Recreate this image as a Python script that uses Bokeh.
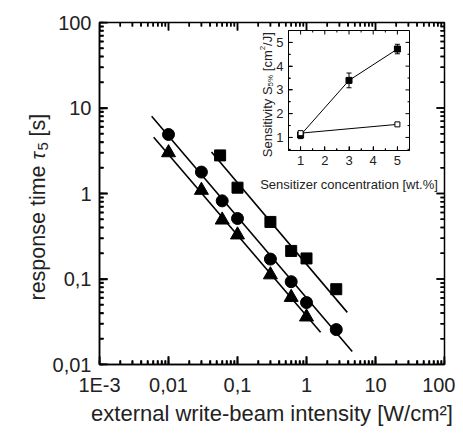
from math import pi
from bokeh.plotting import figure
from bokeh.models import (SingleIntervalTicker, CustomJSTickFormatter, Label, Whisker,
                          ColumnDataSource, Range1d, TeeHead)
from bokeh.embed import file_html
from bokeh.resources import INLINE

FONT = "Liberation Sans"
TXT = "#222222"

# ---------------- data (main plot) ----------------
x_circ = [0.01, 0.03, 0.06, 0.1, 0.3, 0.6, 1.0, 2.7]
y_circ = [4.9, 1.78, 0.82, 0.51, 0.171, 0.093, 0.053, 0.0256]
x_tri = [0.01, 0.03, 0.06, 0.1, 0.3, 0.6, 1.0]
y_tri = [3.0, 1.09, 0.49, 0.328, 0.112, 0.061, 0.036]
x_sq = [0.056, 0.1, 0.3, 0.6, 1.0, 2.7]
y_sq = [2.79, 1.17, 0.465, 0.213, 0.174, 0.076]

fit_circ_x = [0.0057, 4.6]
fit_circ_y = [8.0, 0.0142]
fit_tri_x = [0.0061, 1.6]
fit_tri_y = [4.56, 0.0238]
fit_sq_x = [0.042, 3.9]
fit_sq_y = [3.05, 0.0407]

x_decades = [-3, -2, -1, 0, 1, 2]
x_tick_labels = ["1E-3", "0,01", "0,1", "1", "10", "100"]
y_decades = [-2, -1, 0, 1, 2]
y_tick_labels = ["0,01", "0,1", "1", "10", "100"]

# ---------------- data (inset) ----------------
conc = [1, 3, 5]
sens_filled = [1.1, 3.4, 4.72]
sens_err = [0.15, 0.31, 0.2]
conc_open = [1, 5]
sens_open = [1.18, 1.55]
inset_x_ticks = [1, 2, 3, 4, 5]
inset_y_ticks = [1, 2, 3, 4, 5]

# ---------------- main figure ----------------
X0, X1, Y0, Y1 = 1e-3, 100, 0.01, 100
FW, FH = 345, 342          # frame size in px
p = figure(width=447, height=419, x_axis_type="log", y_axis_type="log",
           x_range=Range1d(X0, X1), y_range=Range1d(Y0, Y1),
           output_backend="svg", toolbar_location=None,
           min_border_left=91, min_border_right=11, min_border_top=14,
           min_border_bottom=63,
           styles={"position": "absolute", "left": "8px", "top": "8px"})
p.xgrid.visible = False
p.ygrid.visible = False
p.outline_line_color = "black"
p.outline_line_width = 1.5


def log_fmt(exps, labels):
    return CustomJSTickFormatter(
        args=dict(exps=exps, labels=labels),
        code="""
        const e = Math.round(Math.log10(tick));
        const i = exps.indexOf(e);
        return i >= 0 ? labels[i] : "";
        """)


for ax, exps, labels in ((p.xaxis[0], x_decades, x_tick_labels),
                         (p.yaxis[0], y_decades, y_tick_labels)):
    ax.formatter = log_fmt(exps, labels)
    ax.axis_line_color = "black"
    ax.axis_line_width = 1.5
    ax.major_tick_in = 8
    ax.major_tick_out = 0
    ax.minor_tick_in = 4
    ax.minor_tick_out = 0
    ax.major_tick_line_width = 1.5
    ax.minor_tick_line_width = 1.5
    ax.major_label_text_font = FONT
    ax.major_label_text_font_size = "20px"
    ax.major_label_text_color = TXT
p.xaxis[0].major_label_standoff = 9
p.yaxis[0].major_label_standoff = 8

# inward ticks on all four sides: short segments from the edge, plus dash markers
# lying wholly inside the frame
xmaj = [10.0 ** e for e in x_decades]
xmin = [m * 10.0 ** e for e in x_decades[:-1] for m in range(2, 10)]
ymaj = [10.0 ** e for e in y_decades]
ymin = [m * 10.0 ** e for e in y_decades[:-1] for m in range(2, 10)]
kx = lambda L: 10.0 ** (L * 5.0 / FW)
ky = lambda L: 10.0 ** (L * 4.0 / FH)
for vals, L in ((xmaj, 8), (xmin, 4)):
    n = len(vals)
    p.segment(vals, [Y0] * n, vals, [Y0 * ky(L)] * n, line_color="black", line_width=1.5)
    p.segment(vals, [Y1] * n, vals, [Y1 / ky(L)] * n, line_color="black", line_width=1.5)
    p.scatter(vals, [Y0 * ky(L / 2)] * n, marker="dash", angle=pi / 2, size=L,
              line_color="black", line_width=1.5)
    p.scatter(vals, [Y1 / ky(L / 2)] * n, marker="dash", angle=pi / 2, size=L,
              line_color="black", line_width=1.5)
for vals, L in ((ymaj, 8), (ymin, 4)):
    n = len(vals)
    p.segment([X0] * n, vals, [X0 * kx(L)] * n, vals, line_color="black", line_width=1.5)
    p.segment([X1] * n, vals, [X1 / kx(L)] * n, vals, line_color="black", line_width=1.5)
    p.scatter([X0 * kx(L / 2)] * n, vals, marker="dash", angle=0, size=L,
              line_color="black", line_width=1.5)
    p.scatter([X1 / kx(L / 2)] * n, vals, marker="dash", angle=0, size=L,
              line_color="black", line_width=1.5)

lw = 1.6
p.line(fit_circ_x, fit_circ_y, line_color="black", line_width=lw)
p.line(fit_tri_x, fit_tri_y, line_color="black", line_width=lw)
p.line(fit_sq_x, fit_sq_y, line_color="black", line_width=lw)

p.scatter(x_circ, y_circ, marker="circle", size=12, color="black")
p.scatter(x_tri, y_tri, marker="triangle", size=14, color="black")
p.scatter(x_sq, y_sq, marker="square", size=11, color="black")

# ---------------- inset figure ----------------
IX0, IX1, IY0, IY1 = 0.5, 5.5, 0.45, 5.5
IFW, IFH = 121, 120
inset = figure(width=174, height=170, x_range=Range1d(IX0, IX1),
               y_range=Range1d(IY0, IY1), output_backend="svg",
               toolbar_location=None, min_border_left=48, min_border_right=5,
               min_border_top=5, min_border_bottom=45,
               background_fill_alpha=0, border_fill_alpha=0,
               styles={"position": "absolute", "left": "240px", "top": "25px"})
inset.xgrid.visible = False
inset.ygrid.visible = False
inset.outline_line_color = "black"
inset.outline_line_width = 1

for ax in (inset.xaxis[0], inset.yaxis[0]):
    ax.ticker = SingleIntervalTicker(interval=1, num_minor_ticks=2)
    ax.axis_line_color = "black"
    ax.axis_line_width = 1
    ax.major_tick_in = 4
    ax.major_tick_out = 0
    ax.minor_tick_in = 2
    ax.minor_tick_out = 0
    ax.major_label_text_font = FONT
    ax.major_label_text_font_size = "13px"
    ax.major_label_text_color = TXT
    ax.major_label_standoff = 5

ixmin = [v + 0.5 for v in inset_x_ticks[:-1]]
iymin = [v - 0.5 for v in inset_y_ticks]
dx = (IX1 - IX0) / IFW
dy = (IY1 - IY0) / IFH
for vals, L in ((inset_x_ticks, 4), (ixmin, 2)):
    n = len(vals)
    inset.scatter(vals, [IY0 + L / 2 * dy] * n, marker="dash", angle=pi / 2, size=L,
                  line_color="black", line_width=1)
    inset.scatter(vals, [IY1 - L / 2 * dy] * n, marker="dash", angle=pi / 2, size=L,
                  line_color="black", line_width=1)
for vals, L in ((inset_y_ticks, 4), (iymin, 2)):
    n = len(vals)
    inset.scatter([IX0 + L / 2 * dx] * n, vals, marker="dash", angle=0, size=L,
                  line_color="black", line_width=1)
    inset.scatter([IX1 - L / 2 * dx] * n, vals, marker="dash", angle=0, size=L,
                  line_color="black", line_width=1)

src = ColumnDataSource(dict(x=conc, y=sens_filled,
                            lo=[v - e for v, e in zip(sens_filled, sens_err)],
                            hi=[v + e for v, e in zip(sens_filled, sens_err)]))
inset.add_layout(Whisker(source=src, base="x", lower="lo", upper="hi",
                         dimension="height", line_color="black", line_width=1,
                         upper_head=TeeHead(size=5, line_color="black", line_width=1),
                         lower_head=TeeHead(size=5, line_color="black", line_width=1)))
inset.line(conc, sens_filled, line_color="black", line_width=1)
inset.line(conc_open, sens_open, line_color="black", line_width=1)
inset.scatter("x", "y", source=src, marker="square", size=6, color="black")
inset.scatter(conc_open, sens_open, marker="square", size=5, fill_color="white",
              line_color="black", line_width=1)

# ---------------- text layer (axis titles with sub/superscripts) ----------------
W, H = 463, 435
t = figure(width=W, height=H, x_range=Range1d(0, W), y_range=Range1d(H, 0),
           output_backend="svg", toolbar_location=None,
           x_axis_location=None, y_axis_location=None,
           min_border=0, min_border_left=0, min_border_right=0,
           min_border_top=0, min_border_bottom=0,
           background_fill_alpha=0, border_fill_alpha=0,
           styles={"position": "absolute", "left": "0px", "top": "0px"})
t.outline_line_color = None
t.xgrid.visible = False
t.ygrid.visible = False


def lab(x, y, text, size, angle=0.0, align="left", style="normal"):
    t.add_layout(Label(x=x, y=y, text=text, angle=angle, text_font=FONT,
                       text_font_size=size, text_font_style=style,
                       text_color=TXT, text_align=align,
                       text_baseline="alphabetic"))


lab(271.5, 412.5, "external write-beam intensity [W/cm\u00b2]", "22px", align="center")
yb = 37
lab(yb, 300, "response time", "21.5px", angle=pi / 2)
lab(yb, 159, "\u03c4", "20px", angle=pi / 2, style="italic")
lab(yb + 5, 150, "5", "15px", angle=pi / 2)
lab(yb, 136, "[s]", "21.5px", angle=pi / 2)
lab(348.5, 184, "Sensitizer concentration [wt.%]", "13px", align="center")
ib = 267
lab(ib, 156.7, "Sensitivity S", "13px", angle=pi / 2)
lab(ib + 3, 85.9, "5%", "8px", angle=pi / 2)
lab(ib, 70.7, "[cm", "13px", angle=pi / 2)
lab(ib - 5, 49.8, "2", "8px", angle=pi / 2)
lab(ib, 45.4, "/J]", "13px", angle=pi / 2)

open("out.html", "w").write(file_html([p, inset, t], INLINE))
